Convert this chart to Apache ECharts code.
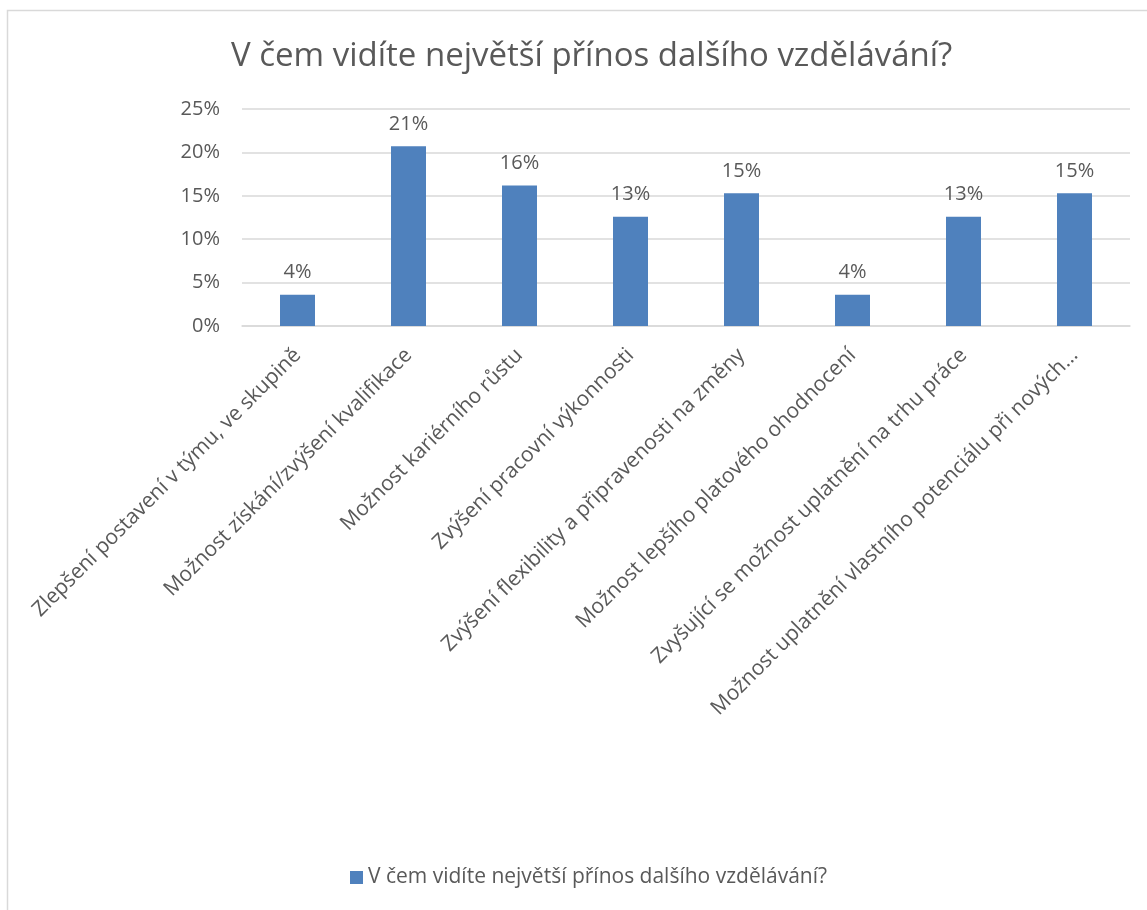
<!DOCTYPE html>
<html>
<head>
<meta charset="utf-8">
<script src="https://cdn.jsdelivr.net/npm/echarts@6/dist/echarts.min.js"></script>
<style>
html,body{margin:0;padding:0;background:#fff;}
#chart{width:1147px;height:910px;}
</style>
</head>
<body>
<div id="chart"></div>
<script>
const titleText = 'V čem vidíte největší přínos dalšího vzdělávání?';
const seriesName = 'V čem vidíte největší přínos dalšího vzdělávání?';
const categories = [
  'Zlepšení postavení v týmu, ve skupině',
  'Možnost získání/zvýšení kvalifikace',
  'Možnost kariérního růstu',
  'Zvýšení pracovní výkonnosti',
  'Zvýšení flexibility a připravenosti na změny',
  'Možnost lepšího platového ohodnocení',
  'Zvyšující se možnost uplatnění na trhu práce',
  'Možnost uplatnění vlastního potenciálu při nových…'
];
const values = [0.036, 0.207, 0.162, 0.126, 0.153, 0.036, 0.126, 0.153];
const yTicks = { min: 0, max: 0.25, interval: 0.05 };

const FONT = 'Open Sans';
const TXT = '#595959';

const chart = echarts.init(document.getElementById('chart'), null, {renderer: 'canvas'});
chart.setOption({
  animation: false,
  backgroundColor: '#fff',
  textStyle: { fontFamily: FONT },
  graphic: [{
    type: 'rect',
    shape: { x: 7.5, y: 10.5, width: 1300, height: 1000 },
    style: { fill: 'none', stroke: '#d9d9d9', lineWidth: 1.5 },
    silent: true, z: -1
  }],
  title: {
    text: titleText,
    left: 226,
    top: 35,
    textStyle: { fontFamily: FONT, fontSize: 33, fontWeight: 'normal', color: TXT }
  },
  legend: {
    bottom: 17,
    left: 345,
    itemWidth: 13, itemHeight: 13,
    icon: 'rect',
    itemGap: 6,
    textStyle: { fontFamily: FONT, fontSize: 21, color: TXT },
    data: [seriesName]
  },
  grid: { left: 242, right: 17, top: 109, bottom: 584, containLabel: false },
  xAxis: {
    type: 'category',
    data: categories,
    axisLine: { lineStyle: { color: '#d9d9d9', width: 1.5 } },
    axisTick: { show: false },
    axisLabel: { rotate: 45, interval: 0, margin: 26, fontFamily: FONT, fontSize: 21, color: TXT }
  },
  yAxis: {
    type: 'value',
    min: yTicks.min, max: yTicks.max, interval: yTicks.interval,
    axisLine: { show: false },
    axisTick: { show: false },
    splitLine: { lineStyle: { color: '#d9d9d9', width: 1.5 } },
    axisLabel: { margin: 22, fontFamily: FONT, fontSize: 20, color: TXT,
      formatter: v => Math.round(v * 100) + '%' }
  },
  series: [{
    name: seriesName,
    type: 'bar',
    data: values,
    barWidth: 35,
    itemStyle: { color: '#4f81bd' },
    label: {
      show: true, position: 'top', distance: 12,
      fontFamily: FONT, fontSize: 20, color: TXT,
      formatter: p => Math.round(p.value * 100) + '%'
    }
  }]
});
</script>
</body>
</html>
